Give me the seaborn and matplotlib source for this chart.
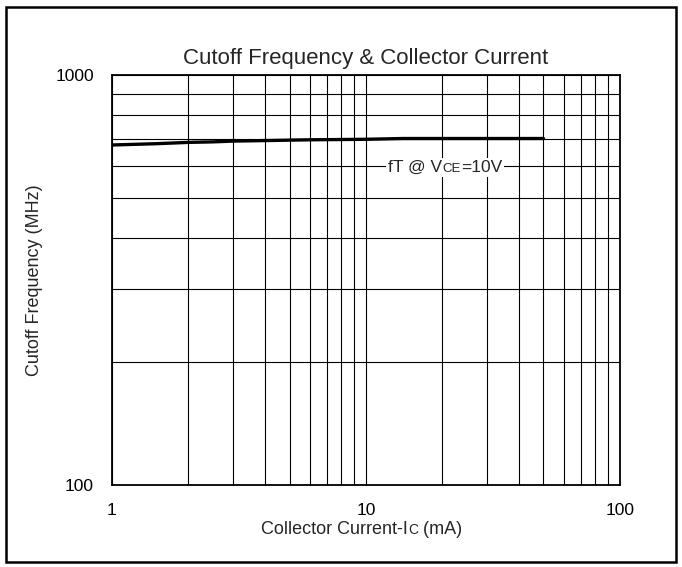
import numpy as np
import pandas as pd
import seaborn as sns
import matplotlib.pyplot as plt
from matplotlib.ticker import FixedLocator, FixedFormatter, LogLocator, NullFormatter
from matplotlib.offsetbox import TextArea, HPacker, AnnotationBbox
from matplotlib.patches import Rectangle

# values
ic_ma = [1, 1.5, 2, 2.5, 3, 4, 6, 10, 14, 20, 30, 50]
ft_mhz = [675, 680, 685, 687, 690, 692, 695, 697, 700, 700, 700, 700]
x_ticks = [1, 10, 100]
y_ticks = [100, 1000]

df = pd.DataFrame({"ic": ic_ma, "ft": ft_mhz})

sns.set_style("white")
plt.rcParams['font.family'] = ['Liberation Sans', 'DejaVu Sans']

fig = plt.figure(figsize=(6.82, 5.67), dpi=100)
ax = fig.add_axes([0.1642, 0.1446, 0.7448, 0.7231])

sns.lineplot(data=df, x="ic", y="ft", ax=ax, color="black", linewidth=2.4)

ax.set_xscale("log")
ax.set_yscale("log")
ax.set_xlim(1, 100)
ax.set_ylim(100, 1000)

ax.xaxis.set_major_locator(FixedLocator(x_ticks))
ax.xaxis.set_major_formatter(FixedFormatter([str(v) for v in x_ticks]))
ax.yaxis.set_major_locator(FixedLocator(y_ticks))
ax.yaxis.set_major_formatter(FixedFormatter([str(v) for v in y_ticks]))
ax.xaxis.set_minor_locator(LogLocator(base=10, subs=np.arange(2, 10)))
ax.yaxis.set_minor_locator(LogLocator(base=10, subs=np.arange(2, 10)))
ax.xaxis.set_minor_formatter(NullFormatter())
ax.yaxis.set_minor_formatter(NullFormatter())

ax.grid(True, which="both", color="black", linewidth=0.8)
ax.tick_params(which="both", length=0, labelsize=12.5, colors="black")
ax.tick_params(axis="x", pad=13)
ax.tick_params(axis="y", pad=13)
for s in ax.spines.values():
    s.set_color("black")
    s.set_linewidth(1.3)

ax.set_xlabel("")
ax.set_ylabel("Cutoff Frequency (MHz)", fontsize=13, labelpad=9)
ax.set_title("Cutoff Frequency & Collector Current", fontsize=16, pad=8)

# series label with smaller "CE"
lab = HPacker(children=[TextArea("fT @ V", textprops=dict(size=12.5)),
                        TextArea("CE", textprops=dict(size=9.5)),
                        TextArea("=10V", textprops=dict(size=12.5))],
              align="baseline", pad=0, sep=0)
ab = AnnotationBbox(lab, (20.5, 595), xycoords="data", frameon=True,
                    bboxprops=dict(facecolor="white", edgecolor="none"), pad=0.15)
ax.add_artist(ab)

# x label with smaller "C"
xl = HPacker(children=[TextArea("Collector Current-I", textprops=dict(size=13)),
                       TextArea("C", textprops=dict(size=10)),
                       TextArea(" (mA)", textprops=dict(size=13))],
             align="baseline", pad=0, sep=0)
ab2 = AnnotationBbox(xl, (0.53, 0.066), xycoords="figure fraction", frameon=False)
fig.add_artist(ab2)

# outer frame
fig.patches.append(Rectangle((0.0095, 0.009), 0.981, 0.9785, transform=fig.transFigure,
                             fill=False, edgecolor="black", linewidth=1.8))

fig.savefig("out.png", dpi=100)
